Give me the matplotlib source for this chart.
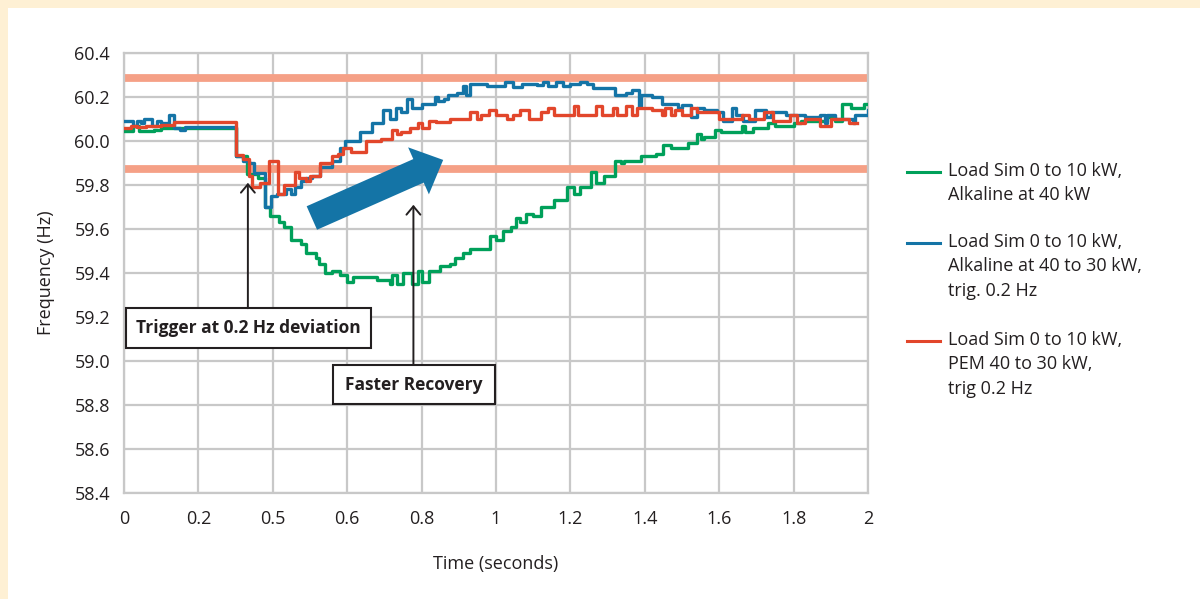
import matplotlib
matplotlib.use("Agg")
import matplotlib.pyplot as plt
from matplotlib.patches import Rectangle
from matplotlib.lines import Line2D

# ---------------- data ----------------
GREEN_T = [0.00, 0.025, 0.04, 0.08, 0.10, 0.12, 0.30, 0.33, 0.36, 0.38, 0.392, 0.418, 0.43, 0.45,
           0.475, 0.49, 0.515, 0.525, 0.54, 0.56, 0.58, 0.60, 0.615, 0.68, 0.70, 0.715, 0.72, 0.735,
           0.75, 0.76, 0.775, 0.79, 0.80, 0.82, 0.85, 0.875, 0.89, 0.91, 0.93, 0.985, 1.00, 1.02,
           1.04, 1.055, 1.065, 1.08, 1.10, 1.12, 1.155, 1.19, 1.21, 1.225, 1.255, 1.27, 1.29, 1.32,
           1.335, 1.345, 1.39, 1.43, 1.45, 1.47, 1.50, 1.515, 1.54, 1.55, 1.56, 1.59, 1.605, 1.66,
           1.67, 1.69, 1.73, 1.75, 1.80, 1.82, 1.89, 1.91, 1.93, 1.955, 1.99, 2.00]
GREEN_F = [60.045, 60.07, 60.045, 60.05, 60.06, 60.06, 59.93, 59.85, 59.83, 59.70, 59.66, 59.63, 59.61, 59.55,
           59.53, 59.49, 59.47, 59.44, 59.40, 59.41, 59.39, 59.36, 59.38, 59.37, 59.37, 59.35, 59.39, 59.35,
           59.40, 59.40, 59.35, 59.41, 59.36, 59.41, 59.43, 59.44, 59.47, 59.49, 59.51, 59.57, 59.55, 59.59,
           59.61, 59.65, 59.63, 59.67, 59.66, 59.70, 59.73, 59.79, 59.76, 59.79, 59.86, 59.81, 59.84, 59.91,
           59.90, 59.91, 59.93, 59.94, 59.98, 59.97, 59.97, 59.99, 60.03, 60.01, 60.02, 60.05, 60.04, 60.07,
           60.04, 60.06, 60.08, 60.07, 60.08, 60.09, 60.11, 60.09, 60.17, 60.15, 60.17, 60.17]

BLUE_T = [0.00, 0.025, 0.035, 0.045, 0.055, 0.075, 0.09, 0.10, 0.12, 0.135, 0.15, 0.165, 0.30, 0.32,
          0.335, 0.35, 0.38, 0.395, 0.41, 0.435, 0.45, 0.46, 0.475, 0.49, 0.505, 0.527, 0.56, 0.58,
          0.595, 0.634, 0.666, 0.697, 0.715, 0.73, 0.745, 0.76, 0.775, 0.79, 0.80, 0.835, 0.845, 0.86,
          0.87, 0.895, 0.91, 0.92, 0.93, 0.96, 0.975, 1.025, 1.045, 1.07, 1.11, 1.125, 1.14, 1.16,
          1.18, 1.20, 1.225, 1.245, 1.26, 1.32, 1.35, 1.365, 1.385, 1.39, 1.42, 1.445, 1.47, 1.49,
          1.50, 1.525, 1.54, 1.56, 1.595, 1.61, 1.635, 1.645, 1.665, 1.695, 1.725, 1.74, 1.78, 1.83,
          1.87, 1.885, 1.89, 1.91, 1.93, 1.96, 1.965, 2.00]
BLUE_F = [60.09, 60.07, 60.09, 60.08, 60.10, 60.07, 60.09, 60.08, 60.12, 60.06, 60.05, 60.065, 59.93, 59.91,
          59.90, 59.855, 59.70, 59.75, 59.76, 59.78, 59.76, 59.79, 59.82, 59.83, 59.84, 59.88, 59.91, 59.97,
          60.00, 60.04, 60.08, 60.14, 60.10, 60.15, 60.13, 60.19, 60.15, 60.15, 60.17, 60.20, 60.18, 60.19,
          60.21, 60.22, 60.25, 60.21, 60.26, 60.26, 60.25, 60.27, 60.245, 60.26, 60.255, 60.27, 60.25, 60.27,
          60.25, 60.26, 60.27, 60.26, 60.24, 60.21, 60.22, 60.23, 60.16, 60.21, 60.20, 60.17, 60.17, 60.15,
          60.165, 60.11, 60.15, 60.14, 60.13, 60.09, 60.15, 60.12, 60.09, 60.14, 60.11, 60.13, 60.12, 60.11,
          60.12, 60.08, 60.12, 60.10, 60.10, 60.08, 60.12, 60.14]

RED_T = [0.00, 0.02, 0.035, 0.06, 0.10, 0.135, 0.30, 0.32, 0.335, 0.345, 0.365, 0.39, 0.415, 0.43,
         0.46, 0.47, 0.49, 0.50, 0.527, 0.56, 0.575, 0.59, 0.61, 0.65, 0.69, 0.72, 0.735, 0.745,
         0.77, 0.79, 0.80, 0.82, 0.84, 0.875, 0.93, 0.95, 0.96, 0.98, 1.00, 1.03, 1.045, 1.065,
         1.09, 1.12, 1.14, 1.155, 1.21, 1.22, 1.27, 1.285, 1.315, 1.325, 1.35, 1.365, 1.38, 1.42,
         1.445, 1.455, 1.47, 1.48, 1.50, 1.525, 1.54, 1.60, 1.66, 1.68, 1.72, 1.745, 1.79, 1.81,
         1.83, 1.87, 1.90, 1.95, 1.97]
RED_F = [60.06, 60.07, 60.065, 60.07, 60.075, 60.085, 59.935, 59.92, 59.84, 59.79, 59.81, 59.91, 59.76, 59.80,
         59.86, 59.83, 59.82, 59.84, 59.90, 59.93, 59.94, 59.97, 59.95, 60.00, 60.01, 60.05, 60.03, 60.04,
         60.06, 60.08, 60.06, 60.09, 60.085, 60.10, 60.13, 60.10, 60.12, 60.14, 60.12, 60.10, 60.12, 60.14,
         60.10, 60.13, 60.15, 60.12, 60.16, 60.12, 60.16, 60.12, 60.15, 60.12, 60.16, 60.12, 60.15, 60.14,
         60.12, 60.15, 60.12, 60.14, 60.12, 60.15, 60.13, 60.10, 60.12, 60.10, 60.13, 60.09, 60.12, 60.08,
         60.10, 60.07, 60.10, 60.08, 60.08]

SERIES_LABELS = ["Load Sim 0 to 10 kW,\nAlkaline at 40 kW",
                 "Load Sim 0 to 10 kW,\nAlkaline at 40 to 30 kW,\ntrig. 0.2 Hz",
                 "Load Sim 0 to 10 kW,\nPEM 40 to 30 kW,\ntrig 0.2 Hz"]
BAND_LEVELS = [60.285, 59.873]
X_TICKS = [0, 0.2, 0.4, 0.6, 0.8, 1.0, 1.2, 1.4, 1.6, 1.8, 2.0]
X_TICK_LABELS = ["0", "0.2", "0.5", "0.6", "0.8", "1", "1.2", "1.4", "1.6", "1.8", "2"]
Y_TICKS = [58.4, 58.6, 58.8, 59.0, 59.2, 59.4, 59.6, 59.8, 60.0, 60.2, 60.4]

# ---------------- style ----------------
plt.rcParams['font.family'] = ['Open Sans', 'DejaVu Sans']
TXT = '#231F20'
GREEN = '#00A05A'
BLUE = '#1474A6'
RED = '#E2462B'
BAND = '#F5A086'
GRID = '#C8C8C8'
LW = 2.4

fig = plt.figure(figsize=(12, 5.99), dpi=100)
fig.patch.set_facecolor('#FEF0D4')
fig.add_artist(Rectangle((8 / 1200, 0), 1, (599 - 8) / 599, transform=fig.transFigure,
                         facecolor='white', edgecolor='none', zorder=-10))

ax = fig.add_axes([124 / 1200, 106 / 599, 744 / 1200, 440 / 599])
ax.set_xlim(0, 2)
ax.set_ylim(58.4, 60.4)
ax.set_xticks(X_TICKS)
ax.set_xticklabels(X_TICK_LABELS)
ax.set_yticks(Y_TICKS)
ax.set_yticklabels([f"{v:.1f}" for v in Y_TICKS])
ax.tick_params(length=0, labelsize=13, colors=TXT, pad=10)
ax.tick_params(axis='x', pad=12)
ax.grid(True, color=GRID, lw=1.6, zorder=0)
ax.set_axisbelow(True)
for s in ax.spines.values():
    s.set_color(GRID)
    s.set_linewidth(1.6)

for lvl in BAND_LEVELS:
    ax.axhline(lvl, color=BAND, lw=5.6, zorder=1.5, solid_capstyle='butt')

ax.plot(GREEN_T, GREEN_F, drawstyle='steps-post', color=GREEN, lw=LW, zorder=3)
ax.plot(BLUE_T, BLUE_F, drawstyle='steps-post', color=BLUE, lw=LW, zorder=3.1)
ax.plot(RED_T, RED_F, drawstyle='steps-post', color=RED, lw=LW, zorder=3.2)

ax.set_xlabel("Time (seconds)", fontsize=13, color=TXT, labelpad=20)
ax.set_ylabel("Frequency (Hz)", fontsize=13, color=TXT, labelpad=14)

# big block arrow
ax.annotate('', xy=(0.858, 59.914), xytext=(0.505, 59.65),
            arrowprops=dict(arrowstyle='simple,head_length=1.05,head_width=2.0,tail_width=1.0',
                            fc=BLUE, ec='none', mutation_scale=18.5, shrinkA=0, shrinkB=0),
            zorder=5)

# callout boxes
ax.add_patch(Rectangle((0.005, 59.06), 0.658, 0.18, fc='white', ec=TXT, lw=1.5, zorder=6))
ax.text(0.334, 59.15, "Trigger at 0.2 Hz deviation", ha='center', va='center',
        fontsize=12.5, fontweight='bold', color=TXT, zorder=7)
ax.annotate('', xy=(0.333, 59.81), xytext=(0.333, 59.24),
            arrowprops=dict(arrowstyle='->,head_length=0.6,head_width=0.5', color=TXT, lw=1.4,
                            mutation_scale=10, shrinkA=0, shrinkB=0), zorder=6)

ax.add_patch(Rectangle((0.561, 58.805), 0.435, 0.177, fc='white', ec=TXT, lw=1.5, zorder=6))
ax.text(0.7785, 58.893, "Faster Recovery", ha='center', va='center',
        fontsize=12.5, fontweight='bold', color=TXT, zorder=7)
ax.annotate('', xy=(0.778, 59.71), xytext=(0.778, 58.982),
            arrowprops=dict(arrowstyle='->,head_length=0.6,head_width=0.5', color=TXT, lw=1.4,
                            mutation_scale=10, shrinkA=0, shrinkB=0), zorder=6)

# manual legend
entries_y = [172, 243, 341]
colors = [GREEN, BLUE, RED]
for y, c, lab in zip(entries_y, colors, SERIES_LABELS):
    yf = 1 - y / 599
    fig.add_artist(Line2D([907 / 1200, 940 / 1200], [yf, yf], color=c, lw=2.2,
                          transform=fig.transFigure))
    fig.text(948 / 1200, yf + 10 / 599, lab, ha='left', va='top', fontsize=13, color=TXT,
             linespacing=1.45)

fig.savefig("out.png", dpi=100, facecolor=fig.get_facecolor())
